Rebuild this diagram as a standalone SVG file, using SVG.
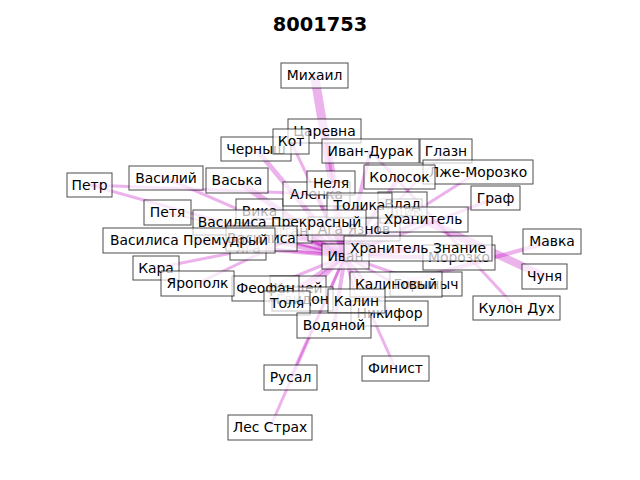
<svg xmlns="http://www.w3.org/2000/svg" width="640" height="480" viewBox="0 0 640 480">
<style>
.e{stroke:#bf00bf;stroke-opacity:0.3;fill:none}
.n rect{fill:#fff;fill-opacity:0.7;stroke:#000;stroke-opacity:0.7;stroke-width:1}
.n text{font-family:"DejaVu Sans",sans-serif;font-size:13.9px;fill:#000;text-anchor:middle}
.t{font-family:"DejaVu Sans",sans-serif;font-size:19.4px;font-weight:bold;text-anchor:middle}
</style>
<rect width="640" height="480" fill="#fff"/>
<text class="t" x="320" y="31">8001753</text>
<g id="edges">
<line class="e" x1="314.5" y1="75.5" x2="345" y2="256" stroke-width="9"/>
<line class="e" x1="256" y1="149" x2="345" y2="256" stroke-width="5"/>
<line class="e" x1="291" y1="141.5" x2="345" y2="256" stroke-width="3"/>
<line class="e" x1="324.5" y1="131" x2="345" y2="256" stroke-width="3"/>
<line class="e" x1="237" y1="180.5" x2="345" y2="256" stroke-width="6"/>
<line class="e" x1="166" y1="178" x2="345" y2="256" stroke-width="3"/>
<line class="e" x1="89.5" y1="185" x2="316.5" y2="194" stroke-width="3"/>
<line class="e" x1="89.5" y1="185" x2="345" y2="256" stroke-width="3"/>
<line class="e" x1="167.5" y1="212.5" x2="345" y2="256" stroke-width="2"/>
<line class="e" x1="259.5" y1="211" x2="345" y2="256" stroke-width="4"/>
<line class="e" x1="279.5" y1="222.5" x2="345" y2="256" stroke-width="6"/>
<line class="e" x1="189" y1="240.5" x2="345" y2="256" stroke-width="3"/>
<line class="e" x1="261.5" y1="238.5" x2="345" y2="256" stroke-width="5"/>
<line class="e" x1="248" y1="248" x2="345" y2="256" stroke-width="4"/>
<line class="e" x1="156" y1="268" x2="354" y2="229" stroke-width="3"/>
<line class="e" x1="197.5" y1="283.5" x2="359.5" y2="205.5" stroke-width="3"/>
<line class="e" x1="265.5" y1="288.5" x2="345" y2="256" stroke-width="3"/>
<line class="e" x1="287" y1="303" x2="345" y2="256" stroke-width="3"/>
<line class="e" x1="298" y1="288" x2="345" y2="256" stroke-width="4"/>
<line class="e" x1="302.5" y1="299" x2="345" y2="256" stroke-width="3"/>
<line class="e" x1="334" y1="325.5" x2="345" y2="256" stroke-width="4"/>
<line class="e" x1="356.5" y1="301" x2="345" y2="256" stroke-width="3"/>
<line class="e" x1="389.5" y1="313.5" x2="345" y2="256" stroke-width="3"/>
<line class="e" x1="396" y1="284.5" x2="345" y2="256" stroke-width="3"/>
<line class="e" x1="426" y1="284" x2="345" y2="256" stroke-width="3"/>
<line class="e" x1="290.5" y1="377.5" x2="345" y2="256" stroke-width="3"/>
<line class="e" x1="270" y1="427.5" x2="345" y2="256" stroke-width="3"/>
<line class="e" x1="395.5" y1="368.5" x2="345" y2="256" stroke-width="3"/>
<line class="e" x1="516.5" y1="308" x2="370.5" y2="151" stroke-width="3"/>
<line class="e" x1="544.5" y1="276.5" x2="423" y2="219.5" stroke-width="8"/>
<line class="e" x1="552" y1="241.5" x2="396" y2="284.5" stroke-width="4"/>
<line class="e" x1="459" y1="257.5" x2="345" y2="256" stroke-width="4"/>
<line class="e" x1="418" y1="248.5" x2="345" y2="256" stroke-width="6"/>
<line class="e" x1="423" y1="219.5" x2="345" y2="256" stroke-width="4"/>
<line class="e" x1="495.5" y1="198" x2="345" y2="256" stroke-width="3"/>
<line class="e" x1="478" y1="172" x2="345" y2="256" stroke-width="3"/>
<line class="e" x1="446" y1="151" x2="345" y2="256" stroke-width="2"/>
<line class="e" x1="399.5" y1="177" x2="345" y2="256" stroke-width="4"/>
<line class="e" x1="402.5" y1="204" x2="345" y2="256" stroke-width="4"/>
<line class="e" x1="401" y1="211" x2="345" y2="256" stroke-width="3"/>
<line class="e" x1="359.5" y1="205.5" x2="345" y2="256" stroke-width="5"/>
<line class="e" x1="331" y1="183" x2="345" y2="256" stroke-width="4"/>
<line class="e" x1="316.5" y1="194" x2="345" y2="256" stroke-width="5"/>
<line class="e" x1="370.5" y1="151" x2="345" y2="256" stroke-width="4"/>
<line class="e" x1="282" y1="231" x2="345" y2="256" stroke-width="4"/>
<line class="e" x1="354" y1="229" x2="345" y2="256" stroke-width="3"/>
</g>
<g id="n-vika" class="n"><rect x="236" y="199" width="47" height="24"/><text x="259.5" y="216">Вика</text></g>
<g id="n-saltan" class="n"><rect x="252" y="219" width="60" height="24"/><text x="282" y="236">Салтан</text></g>
<g id="n-aga" class="n"><rect x="308" y="217" width="92" height="24"/><text x="354" y="234">Ага Язнов</text></g>
<g id="n-yashchik" class="n"><rect x="380" y="199" width="42" height="24"/><text x="401" y="216">Ящик</text></g>
<g id="n-yaga" class="n"><rect x="230" y="236" width="36" height="24"/><text x="248" y="253">Яга</text></g>
<g id="n-morozko" class="n"><rect x="423" y="245" width="72" height="25"/><text x="459" y="262">Морозко</text></g>
<g id="n-gorynych" class="n"><rect x="390" y="272" width="72" height="24"/><text x="426" y="289">Горыныч</text></g>
<g id="n-koshchei" class="n"><rect x="270" y="276" width="56" height="24"/><text x="298" y="293">Кощей</text></g>
<g id="n-gvidon" class="n"><rect x="272" y="287" width="61" height="24"/><text x="302.5" y="304">Гвидон</text></g>
<g id="n-alenka" class="n"><rect x="283" y="182" width="67" height="24"/><text x="316.5" y="199">Аленка</text></g>
<g id="n-glazn" class="n"><rect x="420" y="139" width="52" height="24"/><text x="446" y="156">Глазн</text></g>
<g id="n-chernysh" class="n"><rect x="221" y="137" width="70" height="24"/><text x="256" y="154">Черныш</text></g>
<g id="n-tsarevna" class="n"><rect x="288" y="119" width="73" height="24"/><text x="324.5" y="136">Царевна</text></g>
<g id="n-kot" class="n"><rect x="273" y="129" width="36" height="25"/><text x="291" y="146">Кот</text></g>
<g id="n-ivan-durak" class="n"><rect x="322" y="139" width="97" height="24"/><text x="370.5" y="156">Иван-Дурак</text></g>
<g id="n-lzhe-morozko" class="n"><rect x="423" y="160" width="110" height="24"/><text x="478" y="177">Лже-Морозко</text></g>
<g id="n-kolosok" class="n"><rect x="364" y="165" width="71" height="24"/><text x="399.5" y="182">Колосок</text></g>
<g id="n-nelya" class="n"><rect x="307" y="171" width="48" height="24"/><text x="331" y="188">Неля</text></g>
<g id="n-vlad" class="n"><rect x="378" y="192" width="49" height="24"/><text x="402.5" y="209">Влад</text></g>
<g id="n-tolika" class="n"><rect x="327" y="193" width="65" height="25"/><text x="359.5" y="210">Толика</text></g>
<g id="n-khranitel" class="n"><rect x="378" y="207" width="90" height="25"/><text x="423" y="224">Хранитель</text></g>
<g id="n-vasilisa-prekrasny" class="n"><rect x="193" y="210" width="173" height="25"/><text x="279.5" y="227">Василиса Прекрасный</text></g>
<g id="n-vasilisa" class="n"><rect x="226" y="226" width="71" height="25"/><text x="261.5" y="243">Василиса</text></g>
<g id="n-vasilisa-premudry" class="n"><rect x="103" y="228" width="172" height="25"/><text x="189" y="245">Василиса Премудрый</text></g>
<g id="n-ivan" class="n"><rect x="322" y="244" width="47" height="25"/><text x="345.5" y="261">Иван</text></g>
<g id="n-khranitel-znanie" class="n"><rect x="344" y="236" width="148" height="25"/><text x="418" y="253">Хранитель Знание</text></g>
<g id="n-kalinovy" class="n"><rect x="350" y="272" width="92" height="25"/><text x="396" y="289">Калиновый</text></g>
<g id="n-nikifor" class="n"><rect x="351" y="301" width="77" height="25"/><text x="389.5" y="318">Никифор</text></g>
<g id="n-feofan" class="n"><rect x="232" y="276" width="67" height="25"/><text x="265.5" y="293">Феофан</text></g>
<g id="n-tolya" class="n"><rect x="264" y="291" width="46" height="24"/><text x="287" y="308">Толя</text></g>
<g id="n-kalin" class="n"><rect x="328" y="289" width="57" height="24"/><text x="356.5" y="306">Калин</text></g>
<g id="n-vodyanoy" class="n"><rect x="297" y="313" width="74" height="25"/><text x="334" y="330">Водяной</text></g>
<g id="n-mikhail" class="n"><rect x="281" y="63" width="67" height="25"/><text x="314.5" y="80">Михаил</text></g>
<g id="n-vaska" class="n"><rect x="206" y="168" width="62" height="25"/><text x="237" y="185">Васька</text></g>
<g id="n-vasily" class="n"><rect x="129" y="166" width="74" height="24"/><text x="166" y="183">Василий</text></g>
<g id="n-petr" class="n"><rect x="67" y="173" width="45" height="24"/><text x="89.5" y="190">Петр</text></g>
<g id="n-petya" class="n"><rect x="144" y="200" width="47" height="25"/><text x="167.5" y="217">Петя</text></g>
<g id="n-kara" class="n"><rect x="133" y="256" width="46" height="24"/><text x="156" y="273">Кара</text></g>
<g id="n-yaropolk" class="n"><rect x="161" y="271" width="73" height="25"/><text x="197.5" y="288">Ярополк</text></g>
<g id="n-graf" class="n"><rect x="471" y="186" width="49" height="24"/><text x="495.5" y="203">Граф</text></g>
<g id="n-mavka" class="n"><rect x="523" y="229" width="58" height="25"/><text x="552" y="246">Мавка</text></g>
<g id="n-chunya" class="n"><rect x="522" y="264" width="45" height="25"/><text x="544.5" y="281">Чуня</text></g>
<g id="n-kulon-dukh" class="n"><rect x="473" y="296" width="87" height="24"/><text x="516.5" y="313">Кулон Дух</text></g>
<g id="n-finist" class="n"><rect x="362" y="356" width="67" height="25"/><text x="395.5" y="373">Финист</text></g>
<g id="n-rusal" class="n"><rect x="264" y="365" width="53" height="25"/><text x="290.5" y="382">Русал</text></g>
<g id="n-les-strakh" class="n"><rect x="228" y="415" width="84" height="25"/><text x="270" y="432">Лес Страх</text></g>
</svg>
